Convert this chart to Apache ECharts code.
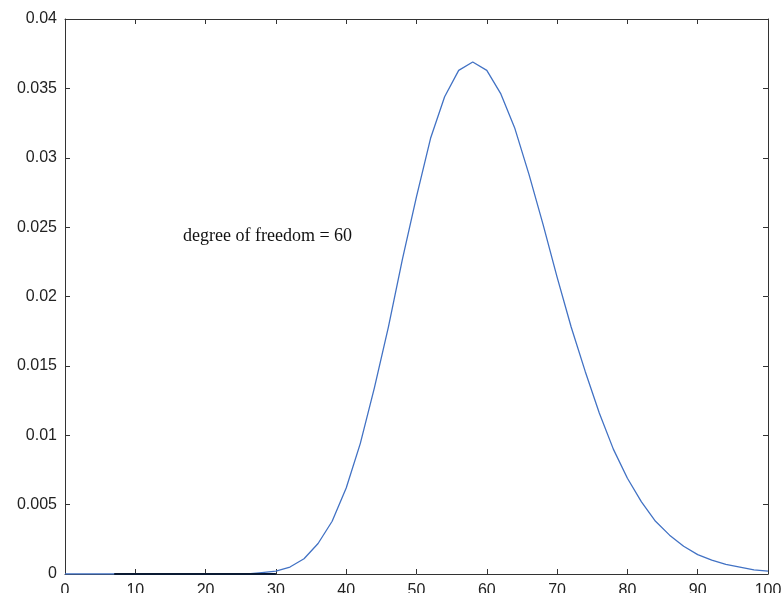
<!DOCTYPE html>
<html>
<head>
<meta charset="utf-8">
<script src="https://cdn.jsdelivr.net/npm/echarts@6/dist/echarts.min.js"></script>
<style>
  html, body { margin: 0; padding: 0; background: #fff; }
  #chart { width: 782px; height: 593px; }
</style>
</head>
<body>
<div id="chart"></div>
<script>
// values
const xs = [0, 2, 4, 6, 8, 10, 12, 14, 16, 18, 20, 22, 24, 26, 28, 30, 32, 34, 36, 38, 40,
  42, 44, 46, 48, 50, 52, 54, 56, 58, 60, 62, 64, 66, 68, 70, 72, 74, 76, 78, 80,
  82, 84, 86, 88, 90, 92, 94, 96, 98, 100];
const density = [0, 0, 0, 0, 0, 0, 0, 0, 0, 0, 0, 0, 0, 0, 0.0001, 0.0002, 0.0005, 0.0011, 0.0022, 0.0038, 0.0062,
  0.0094, 0.0134, 0.0178, 0.0227, 0.0272, 0.0314, 0.0344, 0.0363, 0.0369, 0.0363, 0.0346, 0.0321, 0.0288, 0.0252, 0.0214, 0.0178, 0.0146, 0.0116, 0.0090, 0.0069,
  0.0052, 0.0038, 0.0028, 0.0020, 0.0014, 0.0010, 0.0007, 0.0005, 0.0003, 0.0002];
// dark segment lying on the zero line
const zeroSegX = [7, 30];
const zeroSegY = [0, 0];
const note = 'degree of freedom = 60';

const chart = echarts.init(document.getElementById('chart'));

const axisCommon = {
  type: 'value',
  axisLine: { show: true, onZero: false, lineStyle: { color: '#333', width: 1 } },
  axisTick: { show: true, inside: true, length: 5, lineStyle: { color: '#333' } },
  splitLine: { show: false }
};

chart.setOption({
  animation: false,
  grid: { left: 65, right: 14, top: 19, bottom: 19, containLabel: false, outerBoundsMode: 'none' },
  xAxis: [
    Object.assign({}, axisCommon, {
      min: 0, max: 100, interval: 10,
      axisLabel: { color: '#222', fontSize: 16, fontFamily: 'Liberation Sans, Arial', margin: 9 }
    }),
    Object.assign({}, axisCommon, {
      position: 'top', min: 0, max: 100, interval: 10,
      axisLabel: { show: false }
    })
  ],
  yAxis: [
    Object.assign({}, axisCommon, {
      min: 0, max: 0.04, interval: 0.005,
      axisLabel: {
        color: '#222', fontSize: 16, fontFamily: 'Liberation Sans, Arial', margin: 8,
        formatter: v => String(parseFloat(v.toFixed(3)))
      }
    }),
    Object.assign({}, axisCommon, {
      position: 'right', min: 0, max: 0.04, interval: 0.005,
      axisLabel: { show: false }
    })
  ],
  graphic: [{
    type: 'text',
    left: 183, top: 227,
    style: { text: note, font: '18px "Liberation Serif", "Times New Roman", serif', fill: '#111' }
  }],
  series: [
    {
      type: 'line',
      data: xs.map((x, i) => [x, density[i]]),
      symbol: 'none',
      lineStyle: { color: '#4272c4', width: 1.3 }
    },
    {
      type: 'line',
      data: zeroSegX.map((x, i) => [x, zeroSegY[i]]),
      symbol: 'none',
      lineStyle: { color: '#0a1a33', width: 2 }
    }
  ]
});
</script>
</body>
</html>
